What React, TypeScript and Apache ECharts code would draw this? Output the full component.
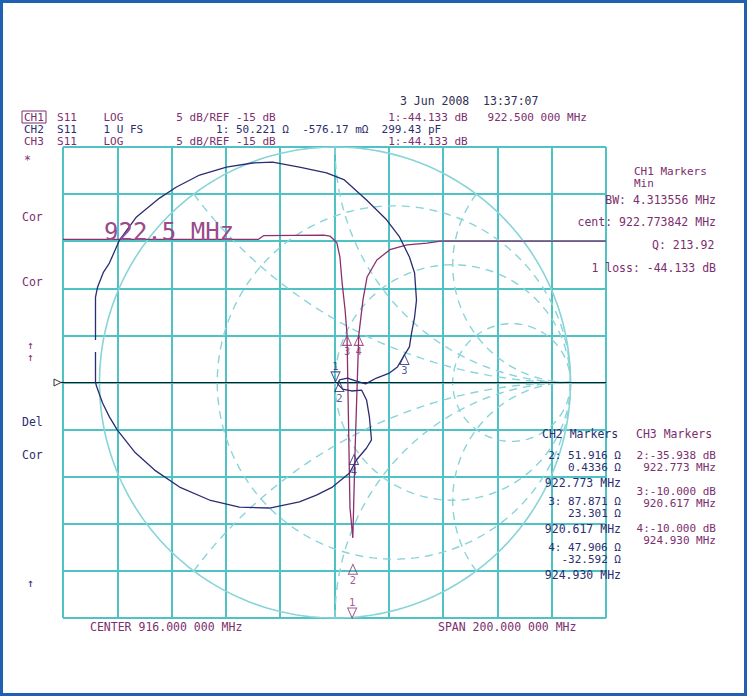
import React, { useEffect, useRef } from "react";
import * as echarts from "echarts";

// ---------- DATA ----------
// CH1 S11 log magnitude trace (frequency MHz, dB)
const ch1Freq = [816, 888, 890, 912, 914.3, 916.0, 916.9, 918.0, 918.8, 919.9, 920.6, 921.7, 922.75, 923.6, 924.93, 926.5, 928.0, 931.6, 936.4, 942.7, 950.1, 955.0, 1016];
const ch1Db = [0.2, 0.2, 0.6, 0.65, 0.55, 0.1, -0.2, -1.7, -4.4, -7.3, -9.8, -28.3, -31.5, -22.0, -10.0, -6.2, -3.8, -2.0, -0.9, -0.4, -0.2, 0.0, 0.0];

// CH2 S11 Smith trace (reflection coefficient, real / imaginary)
const ch2Re = [-1.017, -1.017, -1.008, -0.983, -0.958, -0.915, -0.843, -0.745, -0.673, -0.575, -0.461, -0.35, -0.265, -0.151, -0.036, 0.04, 0.134, 0.219, 0.274, 0.316, 0.338, 0.346, 0.338, 0.325, 0.316, 0.295, 0.265, 0.231, 0.176, 0.13, 0.091, 0.053, 0.019, 0.011, 0.032, 0.07, 0.113, 0.134, 0.146, 0.155, 0.134, 0.091, 0.062, -0.011, -0.079, -0.151, -0.278, -0.406, -0.533, -0.66, -0.766, -0.851, -0.924, -0.958, -0.987, -1.013, -1.017, -1.017];
const ch2Im = [0.18, 0.363, 0.406, 0.469, 0.507, 0.605, 0.703, 0.783, 0.83, 0.881, 0.915, 0.932, 0.936, 0.915, 0.89, 0.86, 0.775, 0.691, 0.618, 0.533, 0.465, 0.35, 0.278, 0.21, 0.151, 0.117, 0.066, 0.04, 0.019, -0.006, 0.006, 0.019, 0.011, -0.006, -0.028, -0.036, -0.032, -0.074, -0.146, -0.244, -0.278, -0.329, -0.384, -0.444, -0.478, -0.507, -0.533, -0.529, -0.499, -0.444, -0.372, -0.295, -0.202, -0.146, -0.087, -0.015, 0.002, 0.13];

// CH1 markers as drawn on the log trace (MHz, dB)
const ch1MarkerNames = ["1", "2", "3", "4"];
const ch1MarkerFreq = [922.5, 922.773, 920.617, 924.93];
const ch1MarkerDb = [-44.133, -34.3, -10.0, -10.0];

// CH3 marker readouts
const ch3MarkerNames = ["1", "2", "3", "4"];
const ch3MarkerFreq = [922.5, 922.773, 920.617, 924.93];
const ch3MarkerDb = [-44.133, -35.938, -10.0, -10.0];

// CH2 markers (impedance, ohms)
const ch2MarkerNames = ["1", "2", "3", "4"];
const ch2MarkerR = [50.221, 51.916, 87.871, 47.906];
const ch2MarkerX = [-0.57617, 0.4336, 23.301, -32.592];
const ch2MarkerFreq = [922.5, 922.773, 920.617, 924.93];

const Z0 = 50;
const REF_DB = -15;
const DB_PER_DIV = 5;
const CENTER_MHZ = 916;
const SPAN_MHZ = 200;

// Smith graticule settings
const R_CIRCLES = [1 / 3, 1, 3];
const X_ARCS = [0.5, 1, 2, -0.5, -1, -2];

// ---------- LAYOUT / STYLE ----------
const GL = 63, GT = 147, GW = 543, GH = 471;
const SMITH_CX = 335, SMITH_R = GH / 2;
const SX_MIN = -(SMITH_CX - GL) / SMITH_R;
const SX_MAX = (GL + GW - SMITH_CX) / SMITH_R;
const CYAN = "#4fc2c6";
const SMITH_C = "#88d4d8";
const PURPLE = "#8b2f6f";
const PTXT = "#7d2e6e";
const NAVY = "#2a2c74";
const NTXT = "#2b2e70";
const MONO = '"DejaVu Sans Mono", "Liberation Mono", monospace';
const FS = 11.5;
const HFS = 11;
const LH = 12;

function smithPt(r: number, x: number): [number, number] {
  const den = (r + 1) * (r + 1) + x * x;
  return [(r * r - 1 + x * x) / den, (2 * x) / den];
}
function rCircle(r: number) {
  const pts: [number, number][] = [];
  for (let i = 0; i <= 300; i++) {
    const t = -Math.PI / 2 + 0.0005 + ((Math.PI - 0.001) * i) / 300;
    pts.push(smithPt(r, Math.tan(t)));
  }
  return pts;
}
function xArc(x: number) {
  const pts: [number, number][] = [];
  for (let i = 0; i <= 200; i++) {
    const s = ((Math.PI / 2 - 0.0005) * i) / 200;
    pts.push(smithPt(Math.tan(s), x));
  }
  return pts;
}

// single or multi-line text; y is the centre of the first line
function T(text: string, x: number, y: number, fill: string, align = "left", lh = 11, fs = FS) {
  return {
    type: "text",
    x,
    y: y - lh / 2,
    silent: true,
    z: 100,
    style: { text, fill, fontFamily: MONO, fontSize: fs, align, verticalAlign: "top", lineHeight: lh },
  };
}

const pad = (s: string, n: number) => s + " ".repeat(Math.max(0, n - s.length));

export default function App() {
  const ref = useRef<HTMLDivElement>(null);

  useEffect(() => {
    if (!ref.current) return;
    const chart = echarts.init(ref.current, undefined, { renderer: "svg" });

    const yMin = REF_DB - 5 * DB_PER_DIV;
    const yMax = REF_DB + 5 * DB_PER_DIV;
    const fMin = CENTER_MHZ - SPAN_MHZ / 2;
    const fMax = CENTER_MHZ + SPAN_MHZ / 2;

    const ch1Data = ch1Freq.map((f, i) => [f, ch1Db[i]]);
    const ch2Data = ch2Re.map((re, i) => [re, ch2Im[i]]);

    const ch1Markers = ch1MarkerNames.map((n, i) => {
      const off = ch1MarkerDb[i] < yMin;
      return {
        name: n,
        value: [ch1MarkerFreq[i], Math.max(ch1MarkerDb[i], yMin)],
        symbolRotate: off ? 180 : 0,
        symbolOffset: off ? [0, -5] : [0, 5],
        label: { position: off ? "top" : "bottom" },
      };
    });

    const ch2Markers = ch2MarkerNames.map((n, i) => {
      const g = smithPt(ch2MarkerR[i] / Z0, ch2MarkerX[i] / Z0);
      const down = i === 0;
      return {
        name: n,
        value: g,
        symbolRotate: down ? 180 : 0,
        symbolOffset: down ? [0, -7] : [0, 5],
        label: { position: down ? "top" : "bottom" },
      };
    });

    const series: any[] = [];
    series.push({
      type: "line",
      xAxisIndex: 2,
      yAxisIndex: 1,
      data: rCircle(0),
      showSymbol: false,
      silent: true,
      z: 1,
      lineStyle: { color: SMITH_C, width: 1.6 },
    });
    R_CIRCLES.forEach((r) =>
      series.push({
        type: "line",
        xAxisIndex: 2,
        yAxisIndex: 1,
        data: rCircle(r),
        showSymbol: false,
        silent: true,
        z: 1,
        lineStyle: { color: SMITH_C, width: 1.4, type: [8, 6] },
      })
    );
    X_ARCS.forEach((x) =>
      series.push({
        type: "line",
        xAxisIndex: 2,
        yAxisIndex: 1,
        data: xArc(x),
        showSymbol: false,
        silent: true,
        z: 1,
        lineStyle: { color: SMITH_C, width: 1.4, type: [8, 6] },
      })
    );
    series.push({
      type: "line",
      xAxisIndex: 0,
      yAxisIndex: 0,
      data: ch1Data,
      showSymbol: false,
      silent: true,
      z: 4,
      lineStyle: { color: PURPLE, width: 1.3 },
      markLine: {
        silent: true,
        symbol: ["none", "none"],
        label: { show: false },
        lineStyle: { color: "#1a1a1a", width: 1.2, type: "solid" },
        data: [{ yAxis: REF_DB }],
        z: 3,
      },
    });
    series.push({
      type: "line",
      xAxisIndex: 2,
      yAxisIndex: 1,
      data: ch2Data,
      showSymbol: false,
      silent: true,
      z: 5,
      lineStyle: { color: NAVY, width: 1.3 },
    });
    series.push({
      type: "scatter",
      xAxisIndex: 0,
      yAxisIndex: 0,
      data: ch1Markers,
      symbol: "triangle",
      symbolSize: [9, 10],
      silent: true,
      z: 6,
      itemStyle: { color: "rgba(255,255,255,0)", borderColor: PURPLE, borderWidth: 1 },
      label: { show: true, formatter: "{b}", color: PURPLE, fontFamily: MONO, fontSize: 10.5, distance: 0 },
    });
    series.push({
      type: "scatter",
      xAxisIndex: 2,
      yAxisIndex: 1,
      data: ch2Markers,
      symbol: "triangle",
      symbolSize: [9, 10],
      silent: true,
      z: 6,
      itemStyle: { color: "rgba(255,255,255,0)", borderColor: NAVY, borderWidth: 1 },
      label: { show: true, formatter: "{b}", color: NAVY, fontFamily: MONO, fontSize: 10.5, distance: 0 },
    });

    const ohm = (v: number, d = 3) => v.toFixed(d) + " Ω";
    const scale = `${DB_PER_DIV} dB/REF ${REF_DB} dB`;
    const m1db = `1:${ch3MarkerDb[0].toFixed(3)} dB`;

    // header rows (monospace columns)
    const row1 = pad(pad(pad(pad("CH1", 5) + "S11", 12) + "LOG", 23) + scale, 55) + pad(m1db, 15) + "922.500 000 MHz";
    const row2 =
      pad(pad(pad(pad("CH2", 5) + "S11", 12) + "1 U FS", 29) + `1: ${ohm(ch2MarkerR[0])}  ${(ch2MarkerX[0] * 1000).toFixed(2)} mΩ`, 54) + "299.43 pF";
    const row3 = pad(pad(pad(pad("CH3", 5) + "S11", 12) + "LOG", 23) + scale, 55) + m1db;
    const header = {
      type: "text",
      x: 24,
      y: 117 - LH / 2,
      silent: true,
      z: 100,
      style: {
        text: `{p|${row1}}\n{n|${row2}}\n{p|${row3}}`,
        fontFamily: MONO,
        fontSize: HFS,
        lineHeight: LH,
        verticalAlign: "top",
        align: "left",
        rich: {
          p: { fill: PTXT, fontFamily: MONO, fontSize: HFS, lineHeight: LH },
          n: { fill: NTXT, fontFamily: MONO, fontSize: HFS, lineHeight: LH },
        },
      },
    };

    const graphic: any[] = [
      { type: "rect", shape: { x: 1.5, y: 1.5, width: 744, height: 693 }, style: { fill: "none", stroke: "#2160b0", lineWidth: 3 }, silent: true, z: 100 },
      T("3 Jun 2008  13:37:07", 400, 101, "#2e2e52"),
      { type: "rect", shape: { x: 22, y: 111, width: 24, height: 12 }, style: { fill: "none", stroke: PTXT, lineWidth: 1 }, silent: true, z: 100 },
      header,
      // left softkey annotations
      T("*", 24, 160, PTXT),
      T("Cor", 22, 217, PTXT),
      T("Cor", 22, 282, PTXT),
      T("↑\n↑", 27, 345, PTXT, "left", 12, HFS),
      T("Del", 22, 422, NTXT),
      T("Cor", 22, 455, NTXT),
      T("↑", 27, 583, NTXT),
      // reference arrow
      { type: "polygon", shape: { points: [[54, 379], [61, 382.5], [54, 386]] }, style: { fill: "#fff", stroke: "#333", lineWidth: 1 }, silent: true, z: 100 },
      { type: "line", shape: { x1: 61, y1: 382.5, x2: 64, y2: 382.5 }, style: { stroke: "#1a1a1a", lineWidth: 1.2 }, silent: true, z: 100 },
      // big marker frequency
      { type: "text", x: 104, y: 232, silent: true, z: 90, style: { text: `${ch1MarkerFreq[0].toFixed(1)} MHz`, fill: "#9a4a8b", fontFamily: MONO, fontSize: 24, align: "left", verticalAlign: "middle" } },
      // CH1 marker block
      T("CH1 Markers\nMin", 634, 171, PTXT, "left", LH, HFS),
      T("BW: 4.313556 MHz", 716, 200, PTXT, "right"),
      T("cent: 922.773842 MHz", 716, 222, PTXT, "right"),
      T("Q: 213.92", 652, 245, PTXT),
      T(`1 loss: ${ch3MarkerDb[0].toFixed(3)} dB`, 716, 268, PTXT, "right"),
      // CH2 / CH3 marker headers
      T("CH2 Markers", 542, 434, NTXT),
      T("CH3 Markers", 636, 434, PTXT),
      // bottom
      T(`CENTER ${CENTER_MHZ.toFixed(3)} 000 MHz`, 90, 627, PTXT),
      T(`SPAN ${SPAN_MHZ.toFixed(3)} 000 MHz`, 438, 627, PTXT),
    ];

    // CH2 marker readouts
    const ch2Y = [455, 501, 547];
    [1, 2, 3].forEach((m, k) => {
      const y = ch2Y[k];
      const xs = ch2MarkerX[m];
      graphic.push(T(`${ch2MarkerNames[m]}: ${ohm(ch2MarkerR[m])}\n${ohm(xs, Math.abs(xs) < 1 ? 4 : 3)}`, 621, y, NTXT, "right", LH, HFS));
      graphic.push(T(`${ch2MarkerFreq[m].toFixed(3)} MHz`, 621, y + 28, NTXT, "right"));
    });
    // CH3 marker readouts
    const ch3Y = [455, 491, 528];
    [1, 2, 3].forEach((m, k) => {
      graphic.push(T(`${ch3MarkerNames[m]}:${ch3MarkerDb[m].toFixed(3)} dB\n${ch3MarkerFreq[m].toFixed(3)} MHz`, 716, ch3Y[k], PTXT, "right", LH, HFS));
    });

    const hiddenSplit = { show: false };
    chart.setOption({
      animation: false,
      backgroundColor: "#ffffff",
      grid: [{ left: GL, top: GT, width: GW, height: GH, show: false }],
      xAxis: [
        { gridIndex: 0, type: "value", min: fMin, max: fMax, show: false, splitLine: hiddenSplit },
        {
          gridIndex: 0,
          type: "value",
          min: 0,
          max: 10,
          interval: 1,
          axisLine: { show: false },
          axisTick: { show: false },
          axisLabel: { show: false },
          splitLine: { show: true, lineStyle: { color: CYAN, width: 2 } },
        },
        { gridIndex: 0, type: "value", min: SX_MIN, max: SX_MAX, show: false, splitLine: hiddenSplit },
      ],
      yAxis: [
        {
          gridIndex: 0,
          type: "value",
          min: yMin,
          max: yMax,
          interval: DB_PER_DIV,
          axisLine: { show: false },
          axisTick: { show: false },
          axisLabel: { show: false },
          splitLine: { show: true, lineStyle: { color: CYAN, width: 2 } },
        },
        { gridIndex: 0, type: "value", min: -1, max: 1, show: false, splitLine: hiddenSplit },
      ],
      series,
      graphic,
    });

    return () => chart.dispose();
  }, []);

  return <div ref={ref} style={{ position: "absolute", left: 0, top: 0, width: 748, height: 698 }} />;
}
